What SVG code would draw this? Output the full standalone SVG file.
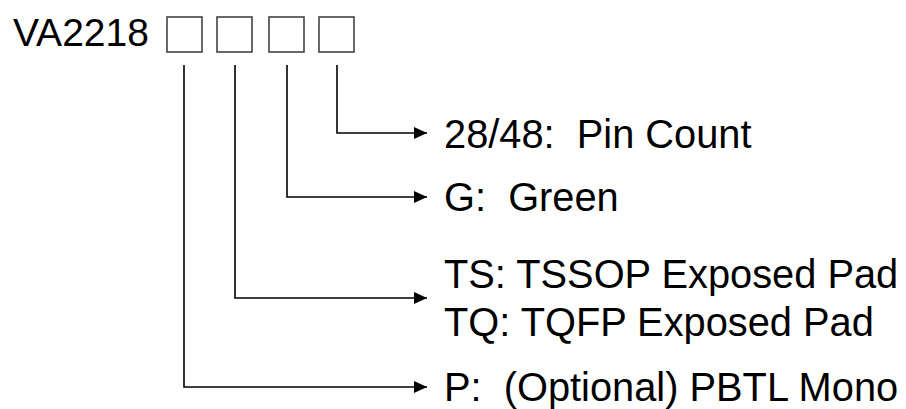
<svg xmlns="http://www.w3.org/2000/svg" width="906" height="409" viewBox="0 0 906 409">
<style>
text{font-family:"Liberation Sans",Arial,sans-serif;font-size:39.8px;fill:#000;white-space:pre}
.box{fill:#fff;stroke:#444;stroke-width:1.6}
.c{fill:none;stroke:#000;stroke-width:1.6}
</style>
<defs>
<marker id="ah" viewBox="0 0 13 12" refX="13" refY="6" markerWidth="13" markerHeight="12" markerUnits="userSpaceOnUse" orient="auto">
<path d="M0,0 L13,6 L0,12 Z" fill="#000"/>
</marker>
</defs>
<rect width="906" height="409" fill="#fff"/>
<g id="part">
<text x="13" y="46" style="font-size:39px">VA2218</text>
<rect class="box" x="167" y="17" width="35" height="35"/>
<rect class="box" x="217" y="17" width="35" height="35"/>
<rect class="box" x="269" y="17" width="35" height="35"/>
<rect class="box" x="319" y="17" width="35" height="35"/>
</g>
<g id="connectors">
<path class="c" d="M337,65 V133 H427" marker-end="url(#ah)"/>
<path class="c" d="M287,65 V197 H427" marker-end="url(#ah)"/>
<path class="c" d="M235,65 V298 H427" marker-end="url(#ah)"/>
<path class="c" d="M184,65 V387 H427" marker-end="url(#ah)"/>
</g>
<g id="pin"><text x="444" y="148" xml:space="preserve">28/48:  Pin Count</text></g>
<g id="green"><text x="444" y="211" xml:space="preserve">G:  Green</text></g>
<g id="package"><text x="444" y="288">TS: TSSOP Exposed Pad</text><text x="444" y="336">TQ: TQFP Exposed Pad</text></g>
<g id="pbtl"><text x="444" y="401" xml:space="preserve">P:  (Optional) PBTL Mono</text></g>
</svg>
